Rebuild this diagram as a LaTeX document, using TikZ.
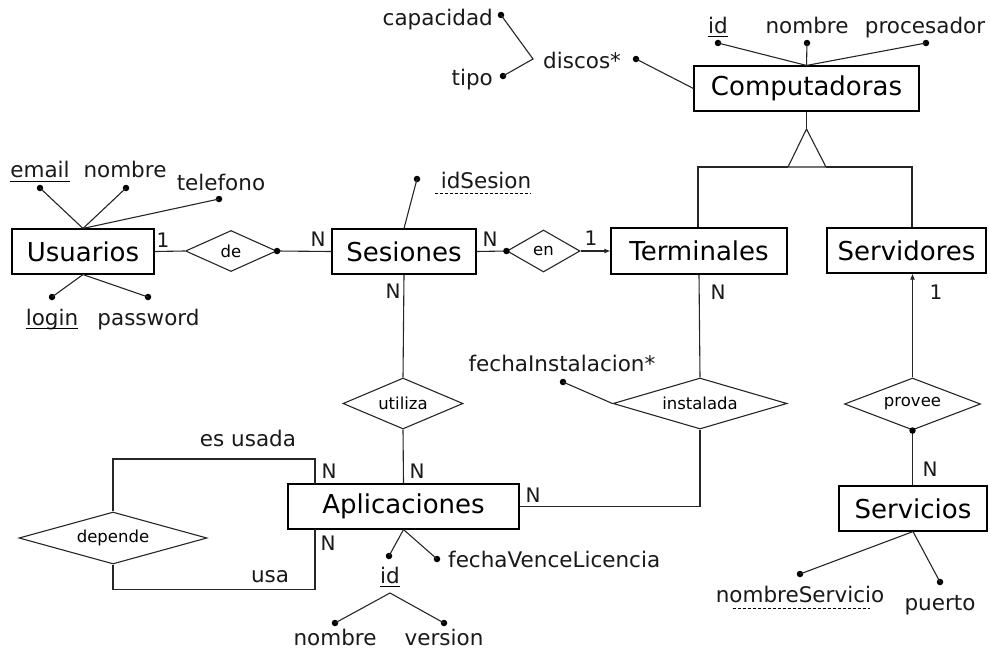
\documentclass[tikz,border=0pt]{standalone}
\usepackage{fontspec}
\setmainfont{DejaVu Sans}
\usetikzlibrary{shapes.geometric,arrows.meta}
\begin{document}
\begin{tikzpicture}[x=1pt,y=-1pt,
  every node/.style={inner sep=0pt},
  line/.style={line width=1.1pt, draw=black!85},
  entity/.style={draw, line width=1.1pt, font=\fontsize{26}{30}\selectfont, minimum height=45pt},
  rel/.style={draw, diamond, line width=1.1pt, draw=black!85, font=\fontsize{16.5}{20}\selectfont},
  attr/.style={font=\fontsize{21.5}{25}\selectfont, anchor=base, text=black!90},
  card/.style={font=\fontsize{20}{24}\selectfont, text=black!90},
  dot/.style={circle, fill=black, minimum size=6.5pt},
  uline/.style={line width=1pt},
  dline/.style={line width=1pt, dash pattern=on 3pt off 2pt},
  tip/.style={-{Latex[length=6pt,width=5pt]}}
]
\useasboundingbox (0,0) rectangle (990,651);

% entities
\node[entity, minimum width=142pt] (usuarios) at (83,251.5) {Usuarios};
\node[entity, minimum width=144pt] (sesiones) at (404,251.5) {Sesiones};
\node[entity, minimum width=176pt, minimum height=46pt] (terminales) at (699,251) {Terminales};
\node[entity, minimum width=159pt] (servidores) at (906.5,250.5) {Servidores};
\node[entity, minimum width=225pt] (computadoras) at (806.5,88.5) {Computadoras};
\node[entity, minimum width=231pt] (aplicaciones) at (403.5,506.5) {Aplicaciones};
\node[entity, minimum width=148pt] (servicios) at (913,508.5) {Servicios};

% relationships
\node[rel, minimum width=91pt, minimum height=41pt, aspect=2.2] (de) at (231,251) {de};
\node[rel, minimum width=73pt, minimum height=42pt, aspect=1.7] (en) at (543.5,251) {en};
\node[rel, minimum width=120pt, minimum height=51pt, aspect=2.35] (utiliza) at (403,403.5) {utiliza};
\node[rel, minimum width=174pt, minimum height=51pt, aspect=3.4] (instalada) at (700,403.5) {instalada};
\node[rel, minimum width=136pt, minimum height=52pt, aspect=2.6] (provee) at (912.5,404) {provee};
\node[rel, minimum width=188pt, minimum height=52pt, aspect=3.6] (depende) at (113,538) {depende};

% connectors
\draw[line] (usuarios.east) -- (de.west);
\draw[line] (de.east) -- (sesiones.west);
\node[dot] (dDe) at (de.east) {};
\draw[line] (sesiones.east) -- (en.west);
\node[dot] (dEn) at (en.west) {};
\draw[line, tip] (en.east) -- (terminales.west);

% generalization
\coordinate (apex) at (806.5,129);
\coordinate (tl) at (788,167);
\coordinate (tr) at (826,167);
\coordinate (bl) at (698,167);
\coordinate (br) at (912,167);
\draw[line] (computadoras.south) -- (apex);
\draw[line] (apex) -- (tl) -- (tr) -- cycle;
\draw[line] (tl) -- (bl) -- (bl |- terminales.north);
\draw[line] (tr) -- (br) -- (br |- servidores.north);

\draw[line] (sesiones.south) -- (utiliza.north);
\draw[line] (utiliza.south) -- (aplicaciones.north);
\draw[line] (terminales.south) -- (instalada.north);
\draw[line] (instalada.south) |- (aplicaciones.east);

\draw[line, tip] (provee.north) -- (provee.north |- servidores.south);
\draw[line] (provee.south) -- (provee.south |- servicios.north);
\node[dot] (dProvee) at (provee.south) {};

\coordinate (aTop) at (315,484);
\coordinate (aBot) at (315,529);
\draw[line] (aTop) -- ++(0,-25) -| (depende.north);
\draw[line] (depende.south) -- ++(0,25) -| (aBot);

% Usuarios attributes
\node[dot] (dEmail) at (40,188) {};
\node[dot] (dNomU) at (126,188) {};
\node[dot] (dTel) at (219,199) {};
\node[dot] (dLogin) at (52,297) {};
\node[dot] (dPass) at (148,297) {};
\draw[line] (usuarios.north) -- (dEmail.center);
\draw[line] (usuarios.north) -- (dNomU.center);
\draw[line] (usuarios.north) -- (dTel.center);
\draw[line] (usuarios.south) -- (dLogin.center);
\draw[line] (usuarios.south) -- (dPass.center);
\node[attr] (tEmail) at (40,177) {email};
\draw[uline] ([yshift=-4pt]tEmail.base west) -- ([yshift=-4pt]tEmail.base east);
\node[attr] (tNomU) at (125,177) {nombre};
\node[attr] (tTel) at (221,190) {telefono};
\node[attr] (tLogin) at (52,325) {login};
\draw[uline] ([yshift=-3pt]tLogin.base west) -- ([yshift=-3pt]tLogin.base east);
\node[attr] (tPass) at (148.5,325) {password};

% Sesiones attribute
\node[dot] (dIdSes) at (417,179) {};
\draw[line] (sesiones.north) -- (dIdSes.center);
\node[attr] (tIdSes) at (486,188) {idSesion};
\draw[dline] ([xshift=-6pt,yshift=-5pt]tIdSes.base west) -- ([yshift=-5pt]tIdSes.base east);

% Computadoras attributes
\node[dot] (dIdC) at (718,43) {};
\node[dot] (dNomC) at (807,43) {};
\node[dot] (dProc) at (926,43) {};
\node[dot] (dDiscos) at (636,59) {};
\draw[line] (computadoras.north) -- (dIdC.center);
\draw[line] (computadoras.north) -- (dNomC.center);
\draw[line] (computadoras.north) -- (dProc.center);
\draw[line] (computadoras.west) -- (dDiscos.center);
\node[attr] (tIdC) at (718,33) {id};
\draw[uline] ([yshift=-3pt]tIdC.base west) -- ([yshift=-3pt]tIdC.base east);
\node[attr] (tNomC) at (807,33) {nombre};
\node[attr] (tProc) at (925,33) {procesador};
\node[attr, anchor=base west] (tDiscos) at (543,68) {discos*};
\coordinate (jDiscos) at (533,59);
\node[dot] (dCap) at (501,15) {};
\node[dot] (dTipo) at (503,76) {};
\draw[line] (dCap.center) -- (jDiscos) -- (dTipo.center);
\node[attr, anchor=base east] (tCap) at (493,25) {capacidad};
\node[attr, anchor=base east] (tTipo) at (493,85) {tipo};

% instalada attribute
\node[dot] (dFechaI) at (563,382) {};
\draw[line] (instalada.west) -- (dFechaI.center);
\node[attr] (tFechaI) at (562,371) {fechaInstalacion*};

% Aplicaciones attributes
\node[dot] (dIdA) at (389,556) {};
\node[dot] (dFechaV) at (437,559) {};
\draw[line] (aplicaciones.south) -- (dIdA.center);
\draw[line] (aplicaciones.south) -- (dFechaV.center);
\node[attr, anchor=base west] (tFechaV) at (448,567) {fechaVenceLicencia};
\node[attr] (tIdA) at (390,583) {id};
\draw[uline] ([yshift=-3pt]tIdA.base west) -- ([yshift=-3pt]tIdA.base east);
\coordinate (jIdA) at (390,593);
\node[dot] (dNomA) at (335,623) {};
\node[dot] (dVer) at (444,623) {};
\draw[line] (dNomA.center) -- (jIdA) -- (dVer.center);
\node[attr] (tNomA) at (335,645) {nombre};
\node[attr] (tVer) at (444,645) {version};

% Servicios attributes
\node[dot] (dNomS) at (800,574) {};
\node[dot] (dPuerto) at (940,582) {};
\draw[line] (servicios.south) -- (dNomS.center);
\draw[line] (servicios.south) -- (dPuerto.center);
\node[attr] (tNomS) at (800,602) {nombreServicio};
\draw[dline] ([xshift=17pt,yshift=-6pt]tNomS.base west) -- ([xshift=-14pt,yshift=-6pt]tNomS.base east);
\node[attr] (tPuerto) at (940,610) {puerto};

% role labels
\node[attr] (tEsUsada) at (248,446) {es usada};
\node[attr] (tUsa) at (270,582) {usa};

% cardinalities
\node[card] (c1) at (163,240.5) {1};
\node[card] (c2) at (318,239.5) {N};
\node[card] (c3) at (490,239) {N};
\node[card] (c4) at (591,238.5) {1};
\node[card] (c5) at (393,291.5) {N};
\node[card] (c6) at (718,292) {N};
\node[card] (c7) at (936,292) {1};
\node[card] (c8) at (930,469.5) {N};
\node[card] (c9) at (417,471) {N};
\node[card] (c10) at (329,471) {N};
\node[card] (c11) at (328,543) {N};
\node[card] (c12) at (533,495.5) {N};
\end{tikzpicture}
\end{document}
